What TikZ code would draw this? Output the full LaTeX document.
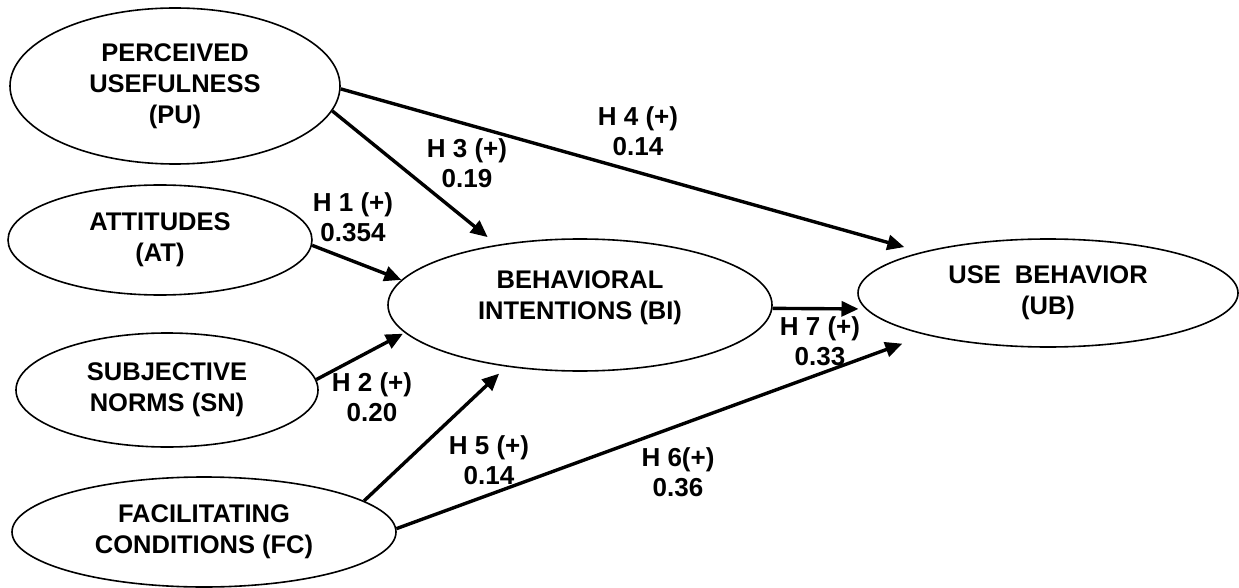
\documentclass[tikz,border=0pt]{standalone}
\usepackage{fontspec}
\setmainfont{Liberation Sans}
\usetikzlibrary{shapes.geometric,arrows.meta}
\begin{document}
\begin{tikzpicture}[x=1pt, y=-1pt]
% TAM research model, drawn on a 1239 x 588 grid
\providecommand{\tamLineColor}{black}
\providecommand{\tamEllipseWidth}{1.6pt}
\providecommand{\tamPathWidth}{3.4pt}
\tikzset{
  construct/.style={ellipse, draw=\tamLineColor, line width=\tamEllipseWidth, inner sep=0pt,
    align=center, font=\bfseries\fontsize{25.5}{31}\selectfont},
  hyplabel/.style={align=center, inner sep=0pt, font=\bfseries\fontsize{26}{30.5}\selectfont},
  hyppath/.style={draw=\tamLineColor, line width=\tamPathWidth, -{Triangle[length=17pt,width=15pt]}}
}
\useasboundingbox (0,0) rectangle (1239,588);
% Constructs
\node[construct, minimum width=330, minimum height=156] (pu) at (175,86) {PERCEIVED\\USEFULNESS\\(PU)};
\node[construct, minimum width=304, minimum height=110] (at) at (160,240) {ATTITUDES\\(AT)};
\node[construct, minimum width=302, minimum height=114] (sn) at (167,390) {SUBJECTIVE\\NORMS (SN)};
\node[construct, minimum width=384, minimum height=110] (fc) at (204,532) {FACILITATING\\CONDITIONS (FC)};
\node[construct, minimum width=384, minimum height=132] (bi) at (580,305) {BEHAVIORAL\\INTENTIONS (BI)\\[-12pt]\mbox{}};
\node[construct, minimum width=380, minimum height=108] (ub) at (1048,293) {USE\ \ BEHAVIOR\\(UB)};
% Hypothesis labels
\node[hyplabel] (h1) at (353,217) {H 1 (+)\\0.354};
\node[hyplabel] (h2) at (372,397) {H 2 (+)\\0.20};
\node[hyplabel] (h3) at (467,163) {H 3 (+)\\0.19};
\node[hyplabel] (h4) at (638,131) {H 4 (+)\\0.14};
\node[hyplabel] (h5) at (489,460) {H 5 (+)\\0.14};
\node[hyplabel] (h6) at (678,472) {H 6(+)\\0.36};
\node[hyplabel] (h7) at (820,341) {H 7 (+)\\0.33};
% Paths
\draw[hyppath, shorten >=18pt] (pu.-1) -- (ub.162);
\draw[hyppath, shorten >=12pt] (pu.-9.5) -- (bi.144);
\draw[hyppath] (at.-2) -- (bi.172);
\draw[hyppath, shorten >=2pt] (sn.4) -- (bi.189);
\draw[hyppath, shorten >=10pt] (fc.11) -- (bi.-140);
\draw[hyppath, shorten >=25pt] (fc.1.5) -- (ub.199);
\draw[hyppath, shorten >=7pt] (bi.-1) -- (ub.185.5);
\end{tikzpicture}
\end{document}
